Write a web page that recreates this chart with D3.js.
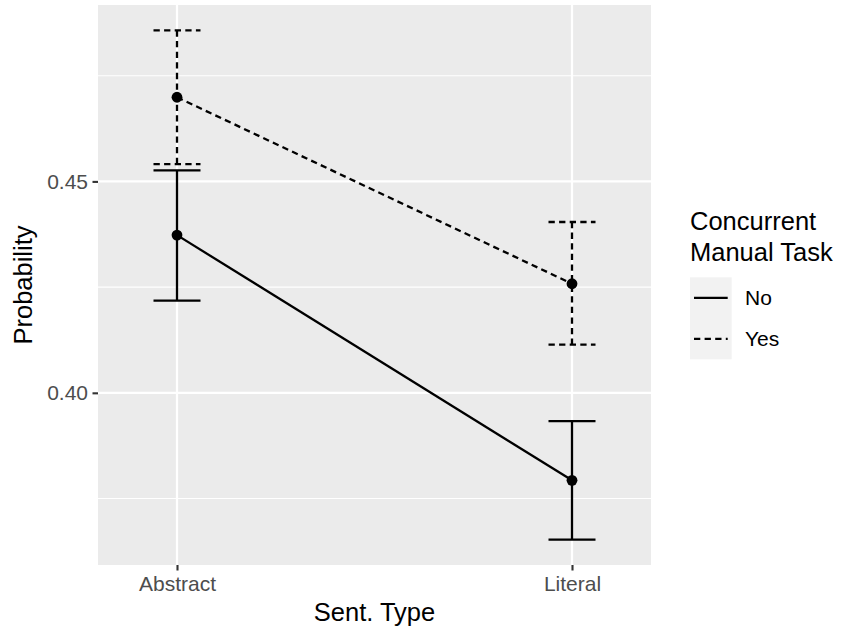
<!DOCTYPE html>
<html>
<head>
<meta charset="utf-8">
<script src="https://cdn.jsdelivr.net/npm/d3@7"></script>
<style>
  html, body { margin: 0; padding: 0; background: #ffffff; }
  svg { display: block; font-family: "Liberation Sans", Arial, Helvetica, sans-serif; }
</style>
</head>
<body>
<svg id="chart" width="841" height="630"></svg>
<script>
// Sentence types on the x axis
const categories = ["Abstract", "Literal"];
// Concurrent manual task groups
const groups = ["No", "Yes"];
// Estimated probabilities per group, in category order
const meanNo  = [0.4373, 0.3793];
const meanYes = [0.4699, 0.4258];
// Error bar bounds per group
const lowerNo  = [0.4218, 0.3653];
const upperNo  = [0.4526, 0.3933];
const lowerYes = [0.4541, 0.4114];
const upperYes = [0.4857, 0.4404];
// Axis ticks
const yMajor = [0.40, 0.45];
const yMinor = [0.375, 0.425, 0.475];

const DASH = "6.3,4.3";
const LW = 2.3;
const series = [
  { group: "No",  mean: meanNo,  lower: lowerNo,  upper: upperNo,  dash: null },
  { group: "Yes", mean: meanYes, lower: lowerYes, upper: upperYes, dash: DASH }
];

const svg = d3.select("#chart");
const panel = { left: 98, right: 651, top: 5, bottom: 565 };

// Continuous y range padded by 5% on each side
const allLo = d3.min(series.flatMap(s => s.lower));
const allHi = d3.max(series.flatMap(s => s.upper));
const pad = (allHi - allLo) * 0.05;
const y = d3.scaleLinear().domain([allLo - pad, allHi + pad]).range([panel.bottom, panel.top]);

// Discrete x positions on a continuous index scale
const x = d3.scaleLinear().domain([0.8, 2.2]).range([panel.left, panel.right]);
const xPos = i => x(i + 1);
const capHalf = 0.0595;

// Panel background
svg.append("rect")
  .attr("x", panel.left).attr("y", panel.top)
  .attr("width", panel.right - panel.left).attr("height", panel.bottom - panel.top)
  .attr("fill", "#EBEBEB");

const grid = svg.append("g");
grid.selectAll("line.minor").data(yMinor).join("line")
  .attr("x1", panel.left).attr("x2", panel.right)
  .attr("y1", d => y(d)).attr("y2", d => y(d))
  .attr("stroke", "#ffffff").attr("stroke-width", 1.1);
grid.selectAll("line.majorY").data(yMajor).join("line")
  .attr("x1", panel.left).attr("x2", panel.right)
  .attr("y1", d => y(d)).attr("y2", d => y(d))
  .attr("stroke", "#ffffff").attr("stroke-width", 2.2);
grid.selectAll("line.majorX").data(categories).join("line")
  .attr("x1", (d, i) => xPos(i)).attr("x2", (d, i) => xPos(i))
  .attr("y1", panel.top).attr("y2", panel.bottom)
  .attr("stroke", "#ffffff").attr("stroke-width", 2.2);

// Axes
const yAxis = d3.axisLeft(y).tickValues(yMajor).tickFormat(d3.format(".2f")).tickSize(5.5).tickPadding(4.5);
const gy = svg.append("g").attr("transform", `translate(${panel.left},0)`).call(yAxis);
const xAxis = d3.axisBottom(x).tickValues([1, 2]).tickFormat(d => categories[d - 1]).tickSize(5.5).tickPadding(5.5);
const gx = svg.append("g").attr("transform", `translate(0,${panel.bottom})`).call(xAxis);
[gx, gy].forEach(g => {
  g.select(".domain").remove();
  g.selectAll(".tick line").attr("stroke", "#333333").attr("stroke-width", 2.1);
  g.selectAll(".tick text").attr("fill", "#4D4D4D").style("font-size", "21px")
    .style("font-family", "'Liberation Sans', Arial, sans-serif");
});
gx.selectAll(".tick text").attr("dy", "0.71em");

// Axis titles
svg.append("text").attr("x", (panel.left + panel.right) / 2).attr("y", 621)
  .attr("text-anchor", "middle").style("font-size", "25.5px").attr("fill", "#000")
  .text("Sent. Type");
svg.append("text")
  .attr("transform", `translate(31.5,${(panel.top + panel.bottom) / 2}) rotate(-90)`)
  .attr("text-anchor", "middle").style("font-size", "25.5px").attr("fill", "#000")
  .text("Probability");

// Error bars, lines and points
const marks = svg.append("g");
series.forEach(s => {
  const g = marks.append("g");
  categories.forEach((c, i) => {
    const xc = xPos(i);
    const eb = g.append("g").attr("stroke", "#000").attr("stroke-width", LW).attr("fill", "none");
    if (s.dash) eb.attr("stroke-dasharray", s.dash);
    eb.append("line").attr("x1", xc).attr("x2", xc).attr("y1", y(s.upper[i])).attr("y2", y(s.lower[i]));
    eb.append("line").attr("x1", x(i + 1 - capHalf)).attr("x2", x(i + 1 + capHalf))
      .attr("y1", y(s.upper[i])).attr("y2", y(s.upper[i]));
    eb.append("line").attr("x1", x(i + 1 - capHalf)).attr("x2", x(i + 1 + capHalf))
      .attr("y1", y(s.lower[i])).attr("y2", y(s.lower[i]));
  });
  const line = d3.line().x((d, i) => xPos(i)).y(d => y(d));
  const p = g.append("path").attr("d", line(s.mean))
    .attr("fill", "none").attr("stroke", "#000").attr("stroke-width", LW);
  if (s.dash) p.attr("stroke-dasharray", s.dash);
  g.selectAll("circle").data(s.mean).join("circle")
    .attr("cx", (d, i) => xPos(i)).attr("cy", d => y(d)).attr("r", 5.4).attr("fill", "#000");
});

// Legend
const legend = svg.append("g").attr("transform", "translate(690,0)");
legend.append("text").attr("x", 0).attr("y", 230).style("font-size", "25.5px").text("Concurrent");
legend.append("text").attr("x", 0).attr("y", 260.5).style("font-size", "25.5px").text("Manual Task");
const keyTop = 277.3, keyH = 41, keyW = 41.7;
legend.append("rect").attr("x", 0).attr("y", keyTop).attr("width", keyW).attr("height", keyH * groups.length)
  .attr("fill", "#F2F2F2");
groups.forEach((gName, i) => {
  const s = series[i];
  const cy = keyTop + keyH * i + keyH / 2;
  const l = legend.append("line").attr("x1", 4).attr("x2", keyW - 4).attr("y1", cy).attr("y2", cy)
    .attr("stroke", "#000").attr("stroke-width", LW);
  if (s.dash) l.attr("stroke-dasharray", s.dash);
  legend.append("text").attr("x", 55).attr("y", cy).attr("dy", "0.35em")
    .style("font-size", "21px").text(gName);
});
</script>
</body>
</html>
